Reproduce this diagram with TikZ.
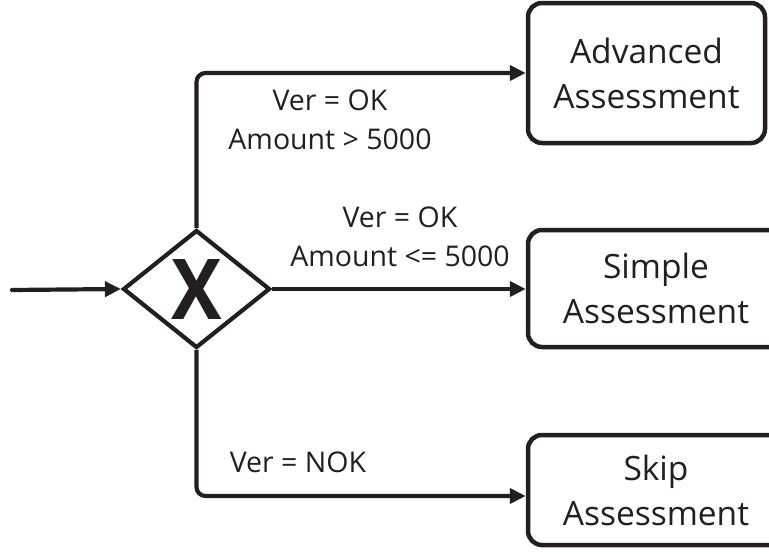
\documentclass[tikz,border=0pt]{standalone}
\usepackage{fontspec}
\setmainfont{Open Sans}
\usetikzlibrary{arrows.meta,shapes.geometric}
\definecolor{ink}{HTML}{231F20}
\tikzset{
  flow/.style={draw=ink, line width=4.2pt, -{Triangle[length=16pt,width=15pt]}},
  gate/.style={diamond, draw=ink, line width=4.2pt, minimum width=147pt, minimum height=118pt, inner sep=0pt},
  gatemark/.style={text=ink, font=\fontsize{84}{84}\bfseries\selectfont, inner sep=0pt, xscale=0.9},
  taskbox/.style={draw=ink, line width=4.5pt, rounded corners=14pt, align=center, text=ink,
    font=\fontsize{33.5}{45}\selectfont, inner sep=0pt},
  condlabel/.style={align=center, text=ink, font=\fontsize{28.5}{39}\selectfont, inner sep=0pt}
}
\begin{document}
\begin{tikzpicture}[x=1pt,y=-1pt]
  \useasboundingbox (0,0) rectangle (769,554);
  \clip (0,0) rectangle (769,554);
  \node[gate] (g) at (196.5,289) {};
  \node[gatemark] (gx) at (196.5,290) {X};
  \coordinate (in) at (12,290);
  \node[taskbox, minimum width=237pt, minimum height=140pt] (adv) at (646.5,73) {Advanced\\Assessment};
  \node[taskbox, minimum width=256pt, minimum height=117pt] (sim) at (656,288.5) {Simple\\Assessment};
  \node[taskbox, minimum width=256pt, minimum height=110pt] (skp) at (656,490) {Skip\\Assessment};
  \node[condlabel] (l1) at (330,120) {Ver = OK\\Amount > 5000};
  \node[condlabel] (l2) at (400,237) {Ver = OK\\Amount <= 5000};
  \node[condlabel] (l3) at (298,462) {Ver = NOK};
  \draw[flow, line cap=round] (in) -- (g.west);
  \draw[flow, rounded corners=9pt] (g.north) |- (adv.west);
  \draw[flow] (g.east) -- (g.east -| sim.west);
  \draw[flow, rounded corners=9pt] (g.south) |- ([yshift=-6pt]skp.west);
\end{tikzpicture}
\end{document}
